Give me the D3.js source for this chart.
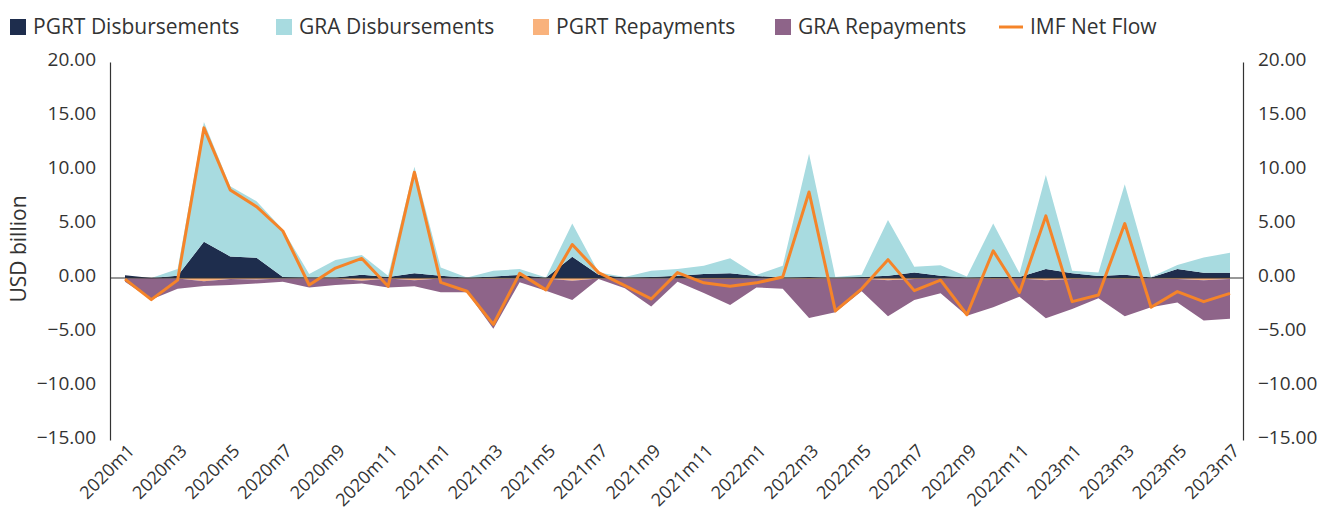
<!DOCTYPE html>
<html>
<head>
<meta charset="utf-8">
<script src="https://cdn.jsdelivr.net/npm/d3@7"></script>
<style>
  html, body { margin: 0; padding: 0; background: #fff; }
  svg { display: block; font-family: "Open Sans", "Noto Sans", sans-serif; }
</style>
</head>
<body>
<svg id="chart" width="1317" height="514"></svg>
<script>
const categories = (() => {
  const out = [];
  for (let y = 2020; y <= 2023; y++) {
    for (let m = 1; m <= 12; m++) {
      if (y === 2023 && m > 7) break;
      out.push(y + "m" + m);
    }
  }
  return out;
})();

const pgrtDisb = [0.25,0,0.2,3.35,2.0,1.87,0.1,0.05,0.05,0.3,0.1,0.45,0.2,0.02,0.15,0.28,0.02,1.97,0.3,0.05,0.1,0.2,0.37,0.43,0.18,0.05,0.1,0.02,0.1,0.2,0.52,0.2,0.05,0.1,0.1,0.83,0.43,0.18,0.3,0.05,0.83,0.49,0.49];
const graDisb  = [0,0,0.63,11.1,6.5,5.23,4.4,0.32,1.61,1.82,0.1,9.85,0.78,0.03,0.52,0.55,0.03,3.07,0.22,0.05,0.57,0.63,0.76,1.41,0.1,1.08,11.4,0.08,0.2,5.18,0.52,0.97,0.1,4.94,0.33,8.7,0.24,0.34,8.37,0.05,0.37,1.41,1.84];
const pgrtRep  = [-0.05,0,-0.05,-0.3,-0.1,-0.15,-0.05,-0.05,-0.05,-0.25,-0.05,-0.2,-0.05,-0.02,-0.1,-0.05,-0.05,-0.25,-0.05,-0.05,-0.05,-0.05,-0.1,-0.1,-0.05,-0.05,-0.1,-0.05,-0.05,-0.2,-0.1,-0.05,-0.05,-0.1,-0.05,-0.2,-0.1,-0.05,-0.1,-0.05,-0.1,-0.2,-0.1];
const graRep   = [-0.3,-2.0,-0.95,-0.45,-0.55,-0.35,-0.3,-0.82,-0.6,-0.25,-0.82,-0.57,-1.28,-1.31,-4.6,-0.35,-1.12,-1.78,-0.05,-0.9,-2.6,-0.3,-1.3,-2.4,-0.82,-0.95,-3.6,-3.12,-1.18,-3.34,-1.93,-1.37,-3.45,-2.61,-1.68,-3.52,-2.76,-1.83,-3.44,-2.66,-2.18,-3.74,-3.68];
const netFlow  = [-0.1,-2.0,-0.2,13.9,8.15,6.6,4.35,-0.65,0.92,1.81,-0.77,9.8,-0.4,-1.23,-4.3,0.43,-1.1,3.1,0.5,-0.7,-1.94,0.5,-0.45,-0.77,-0.45,0.1,7.96,-3.05,-1.0,1.7,-1.17,-0.2,-3.4,2.52,-1.33,5.75,-2.19,-1.57,5.04,-2.71,-1.26,-2.19,-1.42];

const yTicks = [20, 15, 10, 5, 0, -5, -10, -15];
const xTickLabels = categories.filter((d, i) => i % 2 === 0);

const seriesNames = ["PGRT Disbursements", "GRA Disbursements", "PGRT Repayments", "GRA Repayments"];
const seriesColors = ["#1e2d4d", "#a8dbe0", "#f9b27c", "#8e6489"];
const lineColor = "#f58429";

const svg = d3.select("#chart");
const x = d3.scalePoint().domain(categories).range([125, 1230]);
const y = d3.scaleLinear().domain([-15, 20]).range([440, 62]);

const table = categories.map((c, i) => ({
  cat: c,
  "PGRT Disbursements": pgrtDisb[i],
  "GRA Disbursements": graDisb[i],
  "PGRT Repayments": pgrtRep[i],
  "GRA Repayments": graRep[i]
}));

const stack = d3.stack().keys(seriesNames).offset(d3.stackOffsetDiverging);
const stacked = stack(table);

const area = d3.area()
  .x(d => x(d.data.cat))
  .y0(d => y(d[0]))
  .y1(d => y(d[1]));

svg.append("g").selectAll("path")
  .data(stacked)
  .join("path")
  .attr("d", area)
  .attr("fill", (d, i) => seriesColors[i]);

// zero line
svg.append("line")
  .attr("x1", 110).attr("x2", 1243)
  .attr("y1", y(0)).attr("y2", y(0))
  .attr("stroke", "#333").attr("stroke-width", 1.2);

// net flow
const line = d3.line().x((d, i) => x(categories[i])).y(d => y(d));
svg.append("path")
  .datum(netFlow)
  .attr("d", line)
  .attr("fill", "none")
  .attr("stroke", lineColor)
  .attr("stroke-width", 3)
  .attr("stroke-linejoin", "round");

// axes
const fmt = v => d3.format(".2f")(v).replace("-", "\u2013");
const leftAxis = d3.axisLeft(y).tickValues(yTicks).tickSize(0).tickPadding(14).tickFormat(fmt);
const rightAxis = d3.axisRight(y).tickValues(yTicks).tickSize(0).tickPadding(15).tickFormat(fmt);

const gl = svg.append("g").attr("transform", "translate(110,0)").call(leftAxis);
const gr = svg.append("g").attr("transform", "translate(1243,0)").call(rightAxis);
[gl, gr].forEach(g => {
  g.select(".domain").attr("stroke", "#333").attr("stroke-width", 1.2);
  g.selectAll("text")
    .attr("font-size", 19)
    .attr("fill", "#333")
    .attr("font-family", "Open Sans")
    .attr("dy", "0.32em")
    .attr("y", -3);
});

// x labels
const xAxis = d3.axisBottom(x).tickValues(xTickLabels).tickSize(0).tickFormat(d => d);
const gx = svg.append("g").attr("transform", "translate(0,440)").call(xAxis);
gx.select(".domain").remove();
gx.selectAll("text")
  .attr("font-size", 18)
  .attr("fill", "#333")
  .attr("font-family", "Open Sans")
  .attr("text-anchor", "end")
  .attr("dy", null)
  .attr("y", null)
  .attr("transform", "translate(10,12) rotate(-45)");

// y title
svg.append("text")
  .attr("transform", "translate(26,249) rotate(-90)")
  .attr("text-anchor", "middle")
  .attr("font-size", 21)
  .attr("fill", "#333")
  .text("USD billion");

// legend
const legendItems = [
  { name: "PGRT Disbursements", color: seriesColors[0], type: "rect", x: 10 },
  { name: "GRA Disbursements", color: seriesColors[1], type: "rect", x: 276 },
  { name: "PGRT Repayments", color: seriesColors[2], type: "rect", x: 533 },
  { name: "GRA Repayments", color: seriesColors[3], type: "rect", x: 775 },
  { name: "IMF Net Flow", color: lineColor, type: "line", x: 999 }
];
const lg = svg.append("g");
legendItems.forEach(it => {
  if (it.type === "rect") {
    lg.append("rect").attr("x", it.x).attr("y", 19).attr("width", 16).attr("height", 16).attr("fill", it.color);
  } else {
    lg.append("line").attr("x1", it.x).attr("x2", it.x + 24).attr("y1", 27).attr("y2", 27)
      .attr("stroke", it.color).attr("stroke-width", 3);
  }
  lg.append("text")
    .attr("x", it.type === "rect" ? it.x + 23 : it.x + 31)
    .attr("y", 27)
    .attr("dy", "0.35em")
    .attr("font-size", 21)
    .attr("fill", "#333")
    .text(it.name);
});
</script>
</body>
</html>
